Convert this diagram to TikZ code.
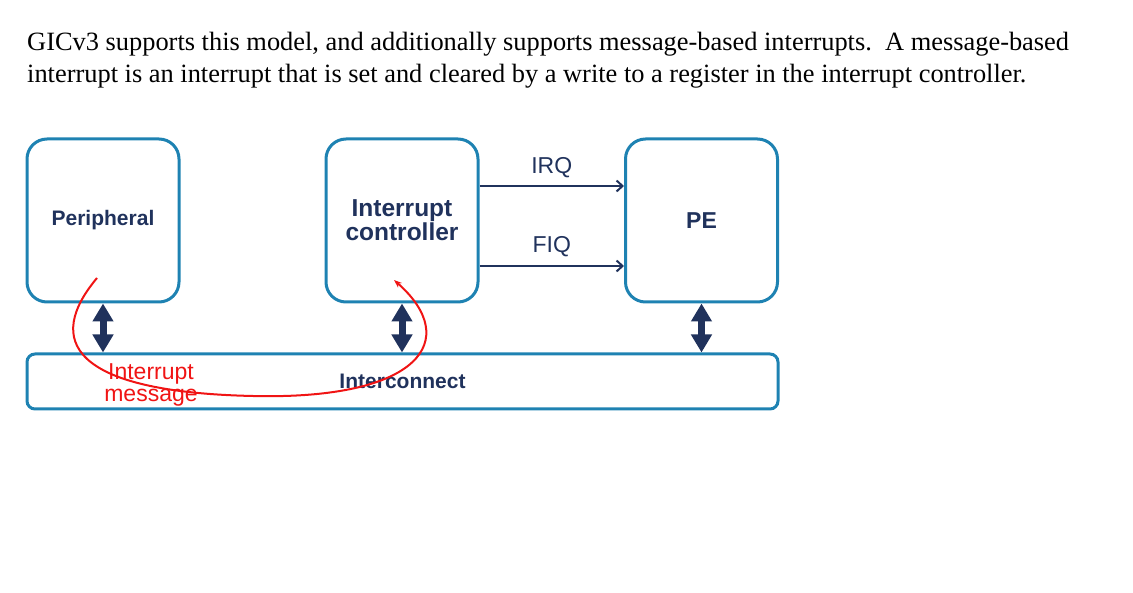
\documentclass[tikz,border=0pt]{standalone}
\usepackage{fontspec}
\setmainfont{Liberation Serif}
\setsansfont{Liberation Sans}
\usetikzlibrary{arrows.meta}
\definecolor{boxblue}{RGB}{30,130,178}
\definecolor{navy}{RGB}{32,50,92}
\definecolor{msgred}{RGB}{240,20,20}
\begin{document}
\begin{tikzpicture}[x=1pt, y=-1pt,
      block/.style={draw=boxblue, line width=3pt, rounded corners=20pt,
        minimum width=152pt, minimum height=163pt, align=center,
        text=navy, font=\sffamily\bfseries\fontsize{21}{24}\selectfont},
      bus/.style={draw=boxblue, line width=3pt, rounded corners=8pt,
        minimum width=751pt, minimum height=55pt,
        text=navy, font=\sffamily\bfseries\fontsize{21}{24}\selectfont},
      link/.style={navy, line width=7pt,
        {Triangle[width=20pt,length=18pt]}-{Triangle[width=20pt,length=18pt]}},
      sig/.style={navy, line width=2pt, -{Straight Barb[length=6pt,width=11pt]}},
      siglabel/.style={text=navy, font=\sffamily\fontsize{23}{26}\selectfont},]
      \useasboundingbox (0,0) rectangle (1133,593);
      \node[anchor=base west, align=left, inner sep=0pt,
        font=\rmfamily\fontsize{26.4}{32}\selectfont] (intro) at (27,83)
        {GICv3 supports this model, and additionally supports message-based interrupts.\ \ A message-based\\
         interrupt is an interrupt that is set and cleared by a write to a register in the interrupt controller.};
      \node[block] (periph) at (103,220.5) {Peripheral};
      \node[block, font=\sffamily\bfseries\fontsize{24.5}{24}\selectfont] (ctrl) at (402,220.5) {Interrupt\\controller};
      \node[block, font=\sffamily\bfseries\fontsize{23}{26}\selectfont] (pe) at (701.5,220.5) {PE};
      \node[bus] (icon) at (402.5,381.5) {Interconnect};
      \draw[link] (periph.south) -- (periph.south |- icon.north);
      \draw[link] (ctrl.south) -- (ctrl.south |- icon.north);
      \draw[link] (pe.south) -- (pe.south |- icon.north);
      \draw[sig] ([yshift=34.5pt]ctrl.east) -- node[siglabel, midway, yshift=18pt] {IRQ} ([yshift=34.5pt]pe.west);
      \draw[sig] ([yshift=-45.5pt]ctrl.east) -- node[siglabel, midway, yshift=19pt] {FIQ} ([yshift=-45.5pt]pe.west);
      \coordinate (msgstart) at (97,278);
      \coordinate (msgend) at (394,280);
      \draw[msgred, line width=2pt, -{Stealth[length=8pt,width=6pt]}] (msgstart)
        .. controls (45,340) and (70,392) .. (253,396)
        .. controls (420,400) and (462,340) .. (msgend);
      \node[text=msgred, align=center, inner sep=0pt,
        font=\sffamily\fontsize{23}{22}\selectfont] (msg) at (151,385) {Interrupt\\message};
    \end{tikzpicture}
\end{document}
